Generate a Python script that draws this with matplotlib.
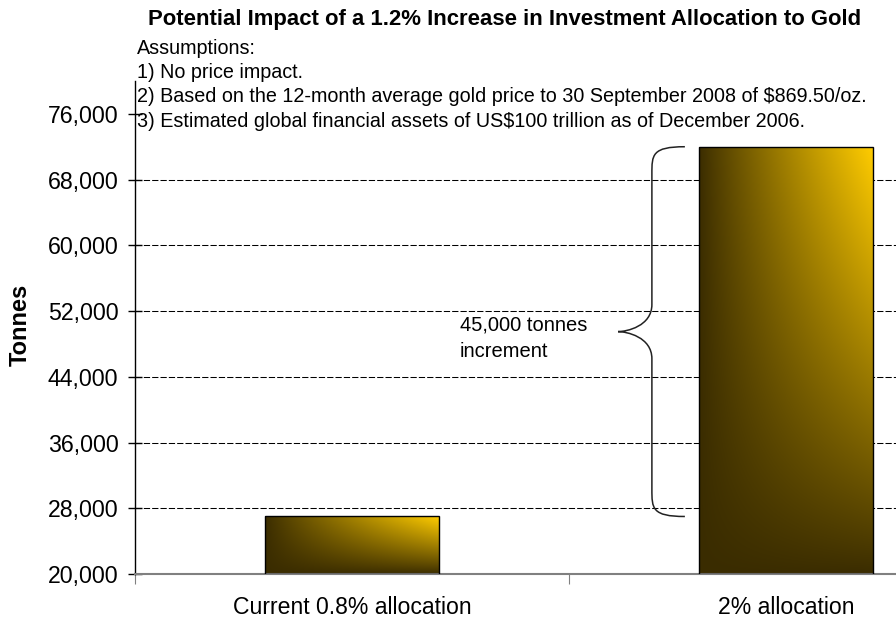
import numpy as np
import matplotlib
matplotlib.use("Agg")
import matplotlib.pyplot as plt
from matplotlib.path import Path
from matplotlib.patches import PathPatch, Rectangle

plt.rcParams['font.family'] = ['Liberation Sans', 'DejaVu Sans']

# data
categories = ["Current 0.8% allocation", "2% allocation"]
tonnes = [27000, 72000]
increment_label = "45,000 tonnes\nincrement"
title = "Potential Impact of a 1.2% Increase in Investment Allocation to Gold"
assumptions = ["Assumptions:",
               "1) No price impact.",
               "2) Based on the 12-month average gold price to 30 September 2008 of $869.50/oz.",
               "3) Estimated global financial assets of US$100 trillion as of December 2006."]
yticks = list(range(20000, 76001, 8000))
gridvals = yticks[1:-1]

fig = plt.figure(figsize=(8.96, 6.19), dpi=100)
ax = fig.add_axes([135 / 896, 45 / 619, 868 / 896, 493 / 619])
ax.set_xlim(-0.5, 1.5)
ax.set_ylim(20000, 80000)

# dashed gridlines (the top one is hidden behind the notes)
for g in gridvals:
    ax.axhline(g, color="black", lw=0.75, ls=(0, (6, 2)), zorder=1)

# gradient bars
dark = np.array([58, 44, 0]) / 255
gold = np.array([255, 204, 0]) / 255
u, v = np.meshgrid(np.linspace(0, 1, 200), np.linspace(0, 1, 200))
t = np.clip(u * v, 0, 1)[..., None] ** 0.9
grad = dark + (gold - dark) * t

width = 0.4
for i, val in enumerate(tonnes):
    x0 = i - width / 2
    rect = Rectangle((x0, 20000), width, val - 20000, facecolor="none",
                     edgecolor="black", lw=1, zorder=3)
    ax.add_patch(rect)
    im = ax.imshow(grad, extent=[x0, x0 + width, 20000, val], origin="lower",
                   aspect="auto", zorder=2, interpolation="bilinear")
    im.set_clip_path(rect)

# curly brace between the two bar tops
yb, yt = tonnes[0], tonnes[1]
ym = (yb + yt) / 2
xe, xm, xt = 0.767, 0.691, 0.613
r = 3300
verts = [(xe, yt), (xm, yt), (xm, yt - r * 0.3), (xm, yt - r),
         (xm, ym + r),
         (xm, ym + r * 0.2), (xt + 0.02, ym), (xt, ym),
         (xt + 0.02, ym), (xm, ym - r * 0.2), (xm, ym - r),
         (xm, yb + r),
         (xm, yb + r * 0.3), (xm, yb), (xe, yb)]
codes = [Path.MOVETO, Path.CURVE4, Path.CURVE4, Path.CURVE4,
         Path.LINETO,
         Path.CURVE4, Path.CURVE4, Path.CURVE4,
         Path.CURVE4, Path.CURVE4, Path.CURVE4,
         Path.LINETO,
         Path.CURVE4, Path.CURVE4, Path.CURVE4]
ax.add_patch(PathPatch(Path(verts, codes), facecolor="none", edgecolor="#222222",
                       lw=1.1, zorder=4))
ax.text(0.249, 48700, increment_label, fontsize=14.5, ha="left", va="center",
        linespacing=1.55)

# axes styling
ax.set_yticks(yticks)
ax.set_yticklabels([f"{y:,}" for y in yticks])
ax.tick_params(axis="y", direction="inout", length=10, width=1, pad=7,
               labelsize=16.7, colors="black")
ax.set_xticks([-0.5, 0.5, 1.5])
ax.set_xticklabels([])
ax.tick_params(axis="x", which="major", direction="out", length=7, color="#808080")
ax.set_xticks([0, 1], minor=True)
ax.set_xticklabels(categories, minor=True)
ax.tick_params(axis="x", which="minor", length=0, pad=16, labelsize=16.6)
for s in ["top", "right"]:
    ax.spines[s].set_visible(False)
ax.spines["bottom"].set_color("#808080")
ax.spines["bottom"].set_linewidth(1.5)
ax.spines["left"].set_linewidth(1)

fig.text(20 / 896, 1 - 325 / 619, "Tonnes", rotation=90, fontsize=17,
         fontweight="bold", ha="center", va="center")
fig.text(148 / 896, 1 - 20 / 619, title, fontsize=15.9, fontweight="bold",
         ha="left", va="center")
for k, line in enumerate(assumptions):
    fig.text(137 / 896, 1 - (48 + 24.5 * k) / 619, line, fontsize=14.2,
             ha="left", va="center")

fig.savefig("out.png", dpi=100)
